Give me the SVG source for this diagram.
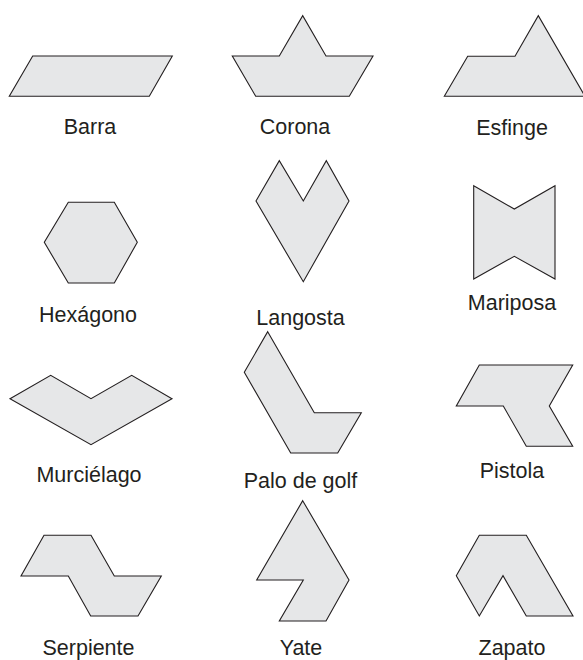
<svg xmlns="http://www.w3.org/2000/svg" width="583" height="660" viewBox="0 0 583 660">
<style>
.s{fill:#e6e7e8;stroke:#231f20;stroke-width:1.1;stroke-linejoin:miter}
.t{font-family:"Liberation Sans",Arial,sans-serif;font-size:21.5px;fill:#231f20;text-anchor:middle}
</style>
<rect width="583" height="660" fill="#ffffff"/>
<g id="barra"><polygon class="s" points="32.7,56 172.3,56 149.3,96.3 9.3,96.3"/><text class="t" x="90" y="134">Barra</text></g>
<g id="corona"><polygon class="s" points="232.3,56 279.3,56 302.7,15.7 326,56 373,56 349.3,96.3 255.7,96.3"/><text class="t" x="295" y="134">Corona</text></g>
<g id="esfinge"><polygon class="s" points="444.3,96.3 467.7,56.3 515,56.3 538.3,15.7 585,96.3"/><text class="t" x="512" y="135">Esfinge</text></g>
<g id="hexagono"><polygon class="s" points="68.3,202.3 114.3,202.3 137.3,242.3 114.3,283 68.3,283 44.3,242.3"/><text class="t" x="88" y="321.5">Hexágono</text></g>
<g id="langosta"><polygon class="s" points="256,201 279.3,160.7 303.3,201 326.3,160.7 349,201 303.3,281.7"/><text class="t" x="300.5" y="325">Langosta</text></g>
<g id="mariposa"><polygon class="s" points="473.7,185.7 514.3,209 555,185.7 555,279 514.3,256.3 473.7,279"/><text class="t" x="512" y="310">Mariposa</text></g>
<g id="murcielago"><polygon class="s" points="10,398.7 50.7,375.3 91,398.7 131.7,375.3 172,398.7 91,444.7"/><text class="t" x="89" y="481.5">Murciélago</text></g>
<g id="palo"><polygon class="s" points="267.7,331.7 314.3,412.7 361.3,412.7 337.7,453 290.7,453 244.3,372.3"/><text class="t" x="300.5" y="487.5">Palo de golf</text></g>
<g id="pistola"><polygon class="s" points="479.3,365 572.7,365 549.3,406 572.7,446.3 526.3,446.3 503.3,406 456.3,406"/><text class="t" x="512" y="478">Pistola</text></g>
<g id="serpiente"><polygon class="s" points="44,535.3 91,535.3 114.3,576 161.3,576 138,616 90.7,616 68.3,576 21,576"/><text class="t" x="88.5" y="654.5">Serpiente</text></g>
<g id="yate"><polygon class="s" points="302.7,500.7 349,580 326,621 279.3,621 303.3,580 256.7,580"/><text class="t" x="301" y="655">Yate</text></g>
<g id="zapato"><polygon class="s" points="479.3,535.3 526.3,535.3 573,616 526.3,616 503,575.7 479.3,616 456.3,575.7"/><text class="t" x="512" y="655">Zapato</text></g>
</svg>
